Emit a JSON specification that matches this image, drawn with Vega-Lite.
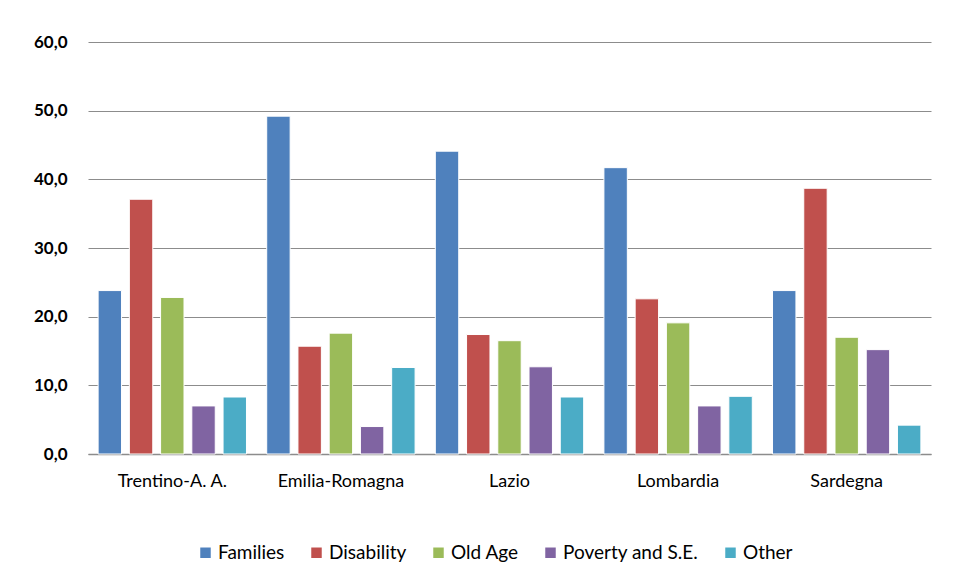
{
  "$schema": "https://vega.github.io/schema/vega-lite/v6.json",
  "width": 843,
  "height": 412,
  "autosize": {"type": "none"},
  "padding": {"left": 88, "top": 42, "right": 28, "bottom": 127},
  "background": "white",
  "config": {
    "view": {"stroke": null},
    "font": "Lato",
    "axis": {"labelColor": "#000000", "labelFont": "Lato"}
  },
  "data": {
    "values": [
      {"region": "Trentino-A. A.", "category": "Families", "value": 23.8},
      {"region": "Trentino-A. A.", "category": "Disability", "value": 37.1},
      {"region": "Trentino-A. A.", "category": "Old Age", "value": 22.8},
      {"region": "Trentino-A. A.", "category": "Poverty and S.E.", "value": 7.0},
      {"region": "Trentino-A. A.", "category": "Other", "value": 8.3},
      {"region": "Emilia-Romagna", "category": "Families", "value": 49.2},
      {"region": "Emilia-Romagna", "category": "Disability", "value": 15.7},
      {"region": "Emilia-Romagna", "category": "Old Age", "value": 17.6},
      {"region": "Emilia-Romagna", "category": "Poverty and S.E.", "value": 4.0},
      {"region": "Emilia-Romagna", "category": "Other", "value": 12.6},
      {"region": "Lazio", "category": "Families", "value": 44.1},
      {"region": "Lazio", "category": "Disability", "value": 17.4},
      {"region": "Lazio", "category": "Old Age", "value": 16.5},
      {"region": "Lazio", "category": "Poverty and S.E.", "value": 12.7},
      {"region": "Lazio", "category": "Other", "value": 8.3},
      {"region": "Lombardia", "category": "Families", "value": 41.7},
      {"region": "Lombardia", "category": "Disability", "value": 22.6},
      {"region": "Lombardia", "category": "Old Age", "value": 19.1},
      {"region": "Lombardia", "category": "Poverty and S.E.", "value": 7.0},
      {"region": "Lombardia", "category": "Other", "value": 8.4},
      {"region": "Sardegna", "category": "Families", "value": 23.8},
      {"region": "Sardegna", "category": "Disability", "value": 38.7},
      {"region": "Sardegna", "category": "Old Age", "value": 17.0},
      {"region": "Sardegna", "category": "Poverty and S.E.", "value": 15.2},
      {"region": "Sardegna", "category": "Other", "value": 4.2}
    ]
  },
  "mark": {"type": "bar", "stroke": "white", "strokeWidth": 1},
  "encoding": {
    "x": {
      "field": "region",
      "type": "nominal",
      "sort": ["Trentino-A. A.", "Emilia-Romagna", "Lazio", "Lombardia", "Sardegna"],
      "scale": {"paddingInner": 0.12, "paddingOuter": 0.06},
      "axis": {
        "title": null,
        "labelAngle": 0,
        "labelFontSize": 18,
        "labelPadding": 18,
        "ticks": false,
        "domain": true,
        "domainColor": "#8c8c8c",
        "domainWidth": 1.5
      }
    },
    "xOffset": {
      "field": "category",
      "type": "nominal",
      "sort": ["Families", "Disability", "Old Age", "Poverty and S.E.", "Other"],
      "scale": {"paddingInner": 0.25, "paddingOuter": 0}
    },
    "y": {
      "field": "value",
      "type": "quantitative",
      "scale": {"domain": [0, 60], "nice": false},
      "axis": {
        "title": null,
        "values": [0, 10, 20, 30, 40, 50, 60],
        "labelExpr": "replace(format(datum.value, '.1f'), '.', ',')",
        "labelFontSize": 17,
        "labelFontWeight": "bold",
        "labelPadding": 21,
        "ticks": false,
        "domain": false,
        "grid": true,
        "gridColor": "#8c8c8c",
        "gridWidth": 1
      }
    },
    "color": {
      "field": "category",
      "type": "nominal",
      "sort": ["Families", "Disability", "Old Age", "Poverty and S.E.", "Other"],
      "scale": {
        "domain": ["Families", "Disability", "Old Age", "Poverty and S.E.", "Other"],
        "range": ["#4F81BD", "#C0504D", "#9BBB59", "#8064A2", "#4BACC6"]
      },
      "legend": {
        "title": null,
        "orient": "none",
        "direction": "horizontal",
        "legendX": 108,
        "legendY": 501,
        "symbolType": "square",
        "symbolSize": 110,
        "symbolStrokeWidth": 0,
        "labelFontSize": 19,
        "labelFont": "Lato",
        "labelColor": "#000000",
        "labelOffset": 3,
        "columnPadding": 22
      }
    }
  }
}
